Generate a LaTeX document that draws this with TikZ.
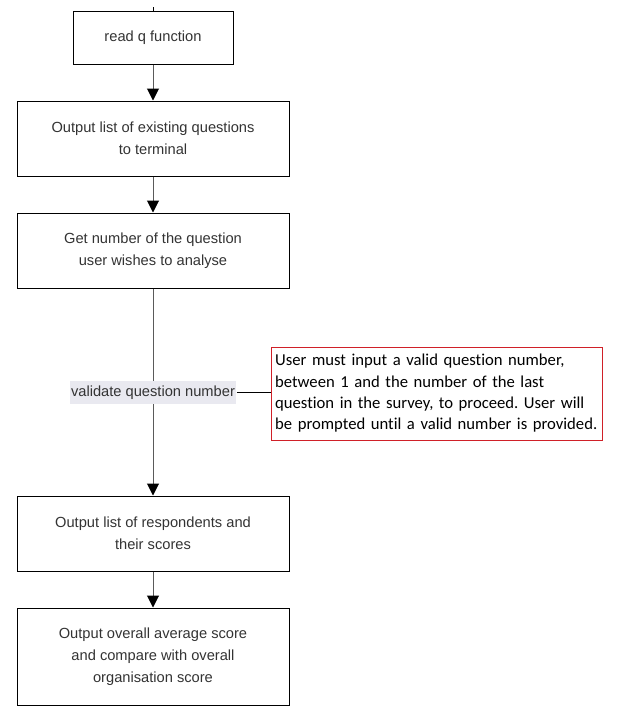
\documentclass[tikz,border=0pt]{standalone}
\usepackage{fontspec}
\setmainfont{Liberation Sans}
\newfontfamily\notefont[Ligatures=NoCommon]{Carlito}
\usetikzlibrary{arrows.meta}
\definecolor{linegray}{RGB}{90,90,90}
\definecolor{textgray}{RGB}{51,51,51}
\definecolor{labelbg}{RGB}{233,233,240}
\definecolor{notered}{RGB}{208,32,40}
\tikzset{
  stepbox/.style={draw=black, line width=0.75pt, minimum width=204pt, minimum height=56.25pt,
    align=center, text=textgray, font=\fontsize{11}{16.5}\selectfont},
  flow/.style={draw=linegray, line width=0.75pt, -{Triangle[length=9pt,width=9pt,color=black]}},
}
\frenchspacing

\begin{document}
\begin{tikzpicture}[x=0.75pt,y=0.75pt,yscale=-1,xscale=1]
\useasboundingbox (0,0) rectangle (632,719);

% Boxes
\draw (153,38) node [stepbox, minimum width=120pt, minimum height=39.75pt] (readq) {read q function};
\draw (153,138.5) node [stepbox] (listq) {Output list of existing questions\\ to terminal};
\draw (153,250.5) node [stepbox] (getnum) {Get number of the question\\ user wishes to analyse};
\draw (153,533.5) node [stepbox] (resp) {Output list of respondents and\\ their scores};
\draw (153,656.5) node [stepbox, minimum height=72.75pt] (avg) {Output overall average score\\ and compare with overall\\ organisation score};

% Connectors
\coordinate (start) at (153,7);
\draw [line width=0.75pt] (start) -- (readq.north);
\draw [flow] (readq) -- (listq);
\draw [flow] (listq) -- (getnum);
\draw [flow] (getnum) -- (resp);
\draw [flow] (resp) -- (avg);

% Text Node
\draw (153,392.5) node [fill=labelbg, text=textgray, inner xsep=1pt, minimum height=15.75pt,
  font=\fontsize{11}{12}\selectfont] (valid) {validate question number};
% Text Node
\draw (436.5,393.5) node [draw=notered, line width=0.75pt, minimum width=248.25pt, minimum height=69.75pt,
  inner xsep=3pt, text width=242pt, align=left, font=\notefont\fontsize{12.5}{16}\selectfont] (note)
  {User must input a valid question number,\\ between 1 and the number of the last\\ question in the survey, to proceed. User will\\ be prompted until a valid number is provided.};
\draw [line width=0.75pt] (valid.east) -- (valid.east -| note.west);

\end{tikzpicture}
\end{document}
